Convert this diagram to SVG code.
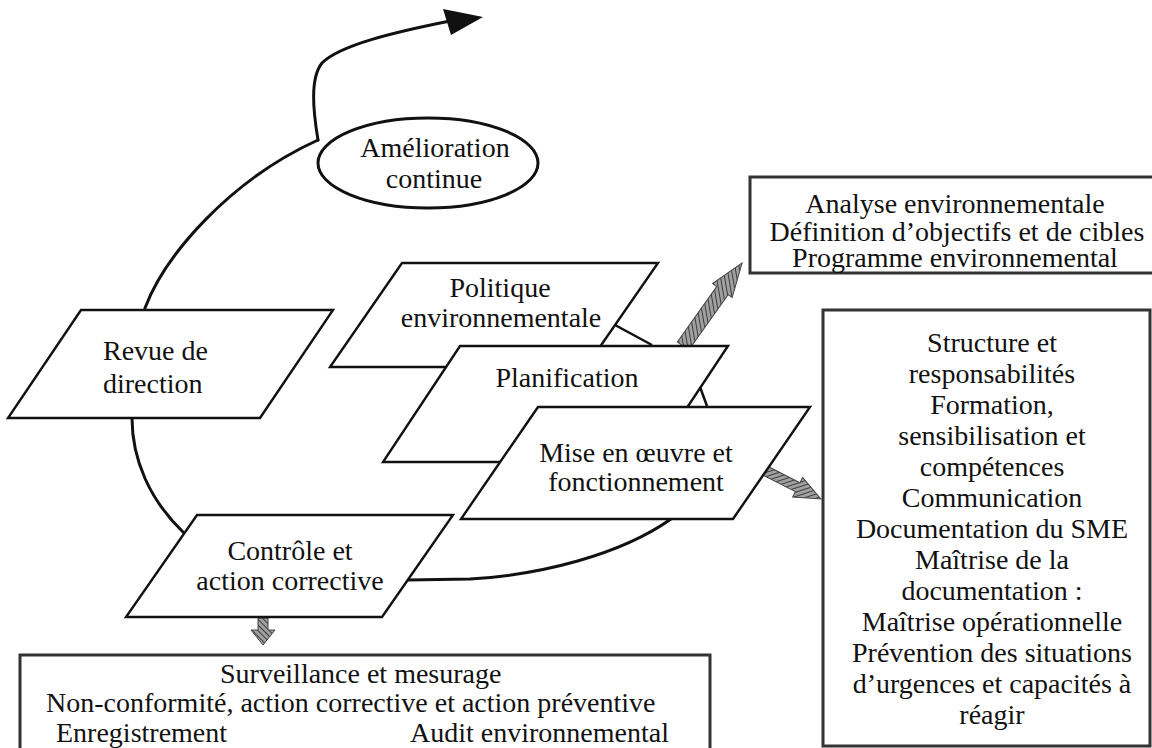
<svg xmlns="http://www.w3.org/2000/svg" width="1152" height="748" viewBox="0 0 1152 748">
<style>
  .t { font-family: "Liberation Serif", "Times New Roman", serif; font-size: 28px; fill: #111; }
  .m { text-anchor: middle; }
  .para { fill: #fff; stroke: #111; stroke-width: 2.4; stroke-linejoin: miter; }
  .box { fill: #fff; stroke: #333; stroke-width: 3; }
  .curve { fill: none; stroke: #111; stroke-width: 3; stroke-linecap: round; }
  .hatch { fill: url(#hatch); stroke: #444; stroke-width: 1; }
  .mark { fill: none; stroke: #111; stroke-width: 2.5; }
</style>
<defs>
  <pattern id="hatch" width="4" height="4" patternUnits="userSpaceOnUse" patternTransform="rotate(45)">
    <rect width="4" height="4" fill="#a0a0a0"/>
    <line x1="0" y1="0" x2="0" y2="4" stroke="#222" stroke-width="1.6"/>
  </pattern>
</defs>
<rect width="1152" height="748" fill="#fff"/>

<g id="connectors">
  <path class="curve" d="M145,308 C165,255 230,180 318,140"/>
  <path class="curve" d="M318,140 C313,110 310,78 322,63 C340,45 395,32 450,21"/>
  <polygon points="443,9 483,17 451,35" fill="#111"/>
  <path class="curve" d="M132,418 C132,460 150,500 183,532"/>
  <path class="curve" d="M408,580 L470,579 C540,575 620,555 671,519"/>
  <g transform="translate(683,346) rotate(-54.6)"><polygon class="hatch" points="0,-7 68,-7 68,-12 102,0 68,12 68,7 0,7"/></g>
  <g transform="translate(762,469) rotate(27)"><polygon class="hatch" points="0,-5 40,-5 40,-11 66,0 40,11 40,5 0,5"/></g>
  <g transform="translate(263,618) rotate(90)"><polygon class="hatch" points="0,-5 12,-5 12,-12 27,0 12,12 12,5 0,5"/></g>
</g>

<g id="n-amelioration">
  <ellipse cx="428" cy="163" rx="110" ry="45" fill="#fff" stroke="#111" stroke-width="3"/>
  <text class="t m" x="435" y="157">Amélioration</text>
  <text class="t m" x="434" y="188">continue</text>
</g>

<g id="n-revue">
  <polygon class="para" points="81,310 333,310 260,418 8,418"/>
  <text class="t" x="103" y="360">Revue de</text>
  <text class="t" x="103" y="393">direction</text>
</g>

<g id="n-politique">
  <polygon class="para" points="402,263 658,263 586,367 330,367"/>
  <text class="t m" x="500" y="297">Politique</text>
  <text class="t m" x="501" y="327">environnementale</text>
</g>

<g id="n-planification">
  <polygon class="para" points="460,346 728,346 651,462 383,462"/>
  <text class="t m" x="567" y="387">Planification</text>
</g>

<g id="n-mise">
  <polygon class="para" points="538,407 810,407 733,519 461,519"/>
  <text class="t m" x="636" y="462">Mise en œuvre et</text>
  <text class="t m" x="636" y="491">fonctionnement</text>
</g>

<g id="angle-marks">
  <line class="mark" x1="615" y1="325" x2="652" y2="345"/>
  <line class="mark" x1="700" y1="387" x2="707" y2="406"/>
</g>

<g id="n-controle">
  <polygon class="para" points="197,515 453,515 382,617 126,617"/>
  <text class="t m" x="290" y="560">Contrôle et</text>
  <text class="t m" x="290" y="590">action corrective</text>
</g>

<g id="n-box-planif">
  <rect class="box" x="750" y="177" width="420" height="96"/>
  <text class="t m" x="955" y="213">Analyse environnementale</text>
  <text class="t m" x="957" y="241">Définition d’objectifs et de cibles</text>
  <text class="t m" x="955" y="267">Programme environnemental</text>
</g>

<g id="n-box-mise">
  <rect class="box" x="823" y="310" width="327" height="436"/>
  <text class="t m" x="992" y="352">Structure et</text>
  <text class="t m" x="992" y="383">responsabilités</text>
  <text class="t m" x="992" y="414">Formation,</text>
  <text class="t m" x="992" y="445">sensibilisation et</text>
  <text class="t m" x="992" y="476">compétences</text>
  <text class="t m" x="992" y="507">Communication</text>
  <text class="t m" x="992" y="538">Documentation du SME</text>
  <text class="t m" x="992" y="569">Maîtrise de la</text>
  <text class="t m" x="992" y="600">documentation :</text>
  <text class="t m" x="992" y="631">Maîtrise opérationnelle</text>
  <text class="t m" x="992" y="662">Prévention des situations</text>
  <text class="t m" x="992" y="693">d’urgences et capacités à</text>
  <text class="t m" x="992" y="724">réagir</text>
</g>

<g id="n-box-controle">
  <rect class="box" x="20" y="655" width="690" height="110"/>
  <text class="t" x="220" y="683">Surveillance et mesurage</text>
  <text class="t" x="46" y="712">Non-conformité, action corrective et action préventive</text>
  <text class="t" x="56" y="742">Enregistrement</text>
  <text class="t" x="410" y="742">Audit environnemental</text>
</g>
</svg>
